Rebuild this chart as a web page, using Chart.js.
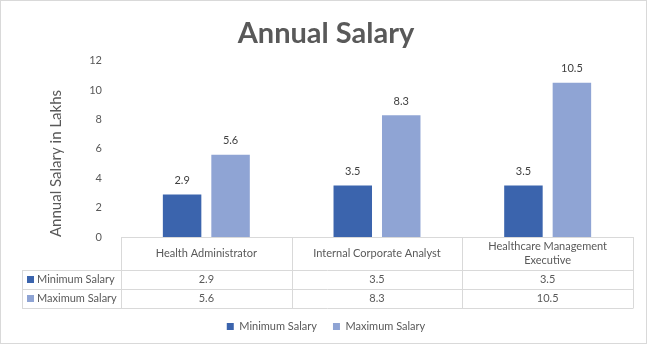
<!DOCTYPE html>
<html>
<head>
<meta charset="utf-8">
<script src="https://cdn.jsdelivr.net/npm/chart.js@4.4.1/dist/chart.umd.min.js"></script>
<style>
html,body{margin:0;padding:0;background:#fff;}
#wrap{position:relative;width:648px;height:345px;}
canvas{display:block;}
</style>
</head>
<body>
<div id="wrap"><canvas id="c" width="648" height="345"></canvas></div>
<script>
const categories = ['Health Administrator', 'Internal Corporate Analyst', ['Healthcare Management', 'Executive']];
const seriesNames = ['Minimum Salary', 'Maximum Salary'];
const minSalary = [2.9, 3.5, 3.5];
const maxSalary = [5.6, 8.3, 10.5];
const yTicks = [0, 2, 4, 6, 8, 10, 12];
const seriesColors = ['#3B64AD', '#8FA4D4'];

const FONT = 'Lato, "Liberation Sans", sans-serif';
const GRID = '#D9D9D9';
const TEXT = '#595959';

const tablePlugin = {
  id: 'tablePlugin',
  afterDraw(chart) {
    const ctx = chart.ctx;
    const area = chart.chartArea;
    const xs = chart.scales.x;
    const n = categories.length;
    const colW = (area.right - area.left) / n;
    const top = area.bottom;
    const headerH = 33;
    const rowH = 19;
    const tableLeft = 22;
    const r1 = top + headerH, r2 = r1 + rowH, r3 = r2 + rowH;
    ctx.save();
    ctx.strokeStyle = GRID;
    ctx.lineWidth = 1;
    const hl = (x1, x2, y) => { ctx.beginPath(); ctx.moveTo(x1, Math.round(y) + 0.5); ctx.lineTo(x2, Math.round(y) + 0.5); ctx.stroke(); };
    const vl = (x, y1, y2) => { ctx.beginPath(); ctx.moveTo(Math.round(x) + 0.5, y1); ctx.lineTo(Math.round(x) + 0.5, y2); ctx.stroke(); };
    hl(area.left, area.right, top);
    hl(tableLeft, area.right, r1);
    hl(tableLeft, area.right, r2);
    hl(tableLeft, area.right, r3);
    for (let i = 0; i <= n; i++) vl(area.left + i * colW, top, r3 + 0.5);
    vl(tableLeft, r1, r3 + 0.5);

    ctx.fillStyle = TEXT;
    ctx.font = '11px ' + FONT;
    ctx.textAlign = 'center';
    ctx.textBaseline = 'middle';
    categories.forEach((c, i) => {
      const cx = xs.getPixelForValue(i);
      const lines = Array.isArray(c) ? c : [c];
      const lh = 14;
      const y0 = top + headerH / 2 - (lines.length - 1) * lh / 2;
      lines.forEach((l, k) => ctx.fillText(l, cx, y0 + k * lh));
      ctx.fillText(String(minSalary[i]), cx, r1 + rowH / 2);
      ctx.fillText(String(maxSalary[i]), cx, r2 + rowH / 2);
    });
    ctx.textAlign = 'left';
    [[seriesNames[0], r1], [seriesNames[1], r2]].forEach(([name, y], k) => {
      ctx.fillStyle = seriesColors[k];
      ctx.fillRect(27, Math.round(y + rowH / 2 - 3.5), 7, 7);
      ctx.fillStyle = TEXT;
      ctx.fillText(name, 37, y + rowH / 2);
    });
    // outer border
    ctx.strokeStyle = GRID;
    ctx.strokeRect(0.5, 0.5, 646, 343);
    ctx.restore();
  }
};

const labelPlugin = {
  id: 'labelPlugin',
  afterDatasetsDraw(chart) {
    const ctx = chart.ctx;
    ctx.save();
    ctx.fillStyle = '#404040';
    ctx.font = '11px ' + FONT;
    ctx.textAlign = 'center';
    ctx.textBaseline = 'middle';
    chart.data.datasets.forEach((ds, di) => {
      chart.getDatasetMeta(di).data.forEach((el, i) => {
        ctx.fillText(String(ds.data[i]), el.x, el.y - 14);
      });
    });
    ctx.restore();
  }
};

new Chart(document.getElementById('c'), {
  type: 'bar',
  data: {
    labels: categories,
    datasets: [
      { label: seriesNames[0], data: minSalary, backgroundColor: seriesColors[0], categoryPercentage: 0.568, barPercentage: 0.794 },
      { label: seriesNames[1], data: maxSalary, backgroundColor: seriesColors[1], categoryPercentage: 0.568, barPercentage: 0.794 }
    ]
  },
  options: {
    responsive: false,
    animation: false,
    layout: { padding: { left: 19, right: 15, top: 0, bottom: 3 } },
    plugins: {
      title: {
        display: true,
        text: 'Annual Salary',
        color: TEXT,
        font: { family: FONT, size: 29, weight: 'bold' },
        padding: { top: 16, bottom: 10 }
      },
      legend: {
        position: 'bottom',
        labels: {
          boxWidth: 7, boxHeight: 7, padding: 16,
          color: TEXT,
          font: { family: FONT, size: 11 }
        }
      },
      tooltip: { enabled: false }
    },
    scales: {
      x: {
        display: true,
        grid: { display: false },
        border: { display: false },
        ticks: { display: false },
        afterFit(a) { a.height = 68; }
      },
      y: {
        min: 0, max: 12,
        afterBuildTicks(a) { a.ticks = yTicks.map(v => ({ value: v })); },
        grid: { display: false },
        border: { display: false },
        ticks: { color: TEXT, font: { family: FONT, size: 11 }, padding: 11 },
        title: {
          display: true,
          text: 'Annual Salary in Lakhs',
          color: TEXT,
          align: 'start',
          font: { family: FONT, size: 15 },
          padding: { top: 28, bottom: 0 }
        },
        afterFit(a) { a.width = 102; }
      }
    }
  },
  plugins: [tablePlugin, labelPlugin]
});
</script>
</body>
</html>
